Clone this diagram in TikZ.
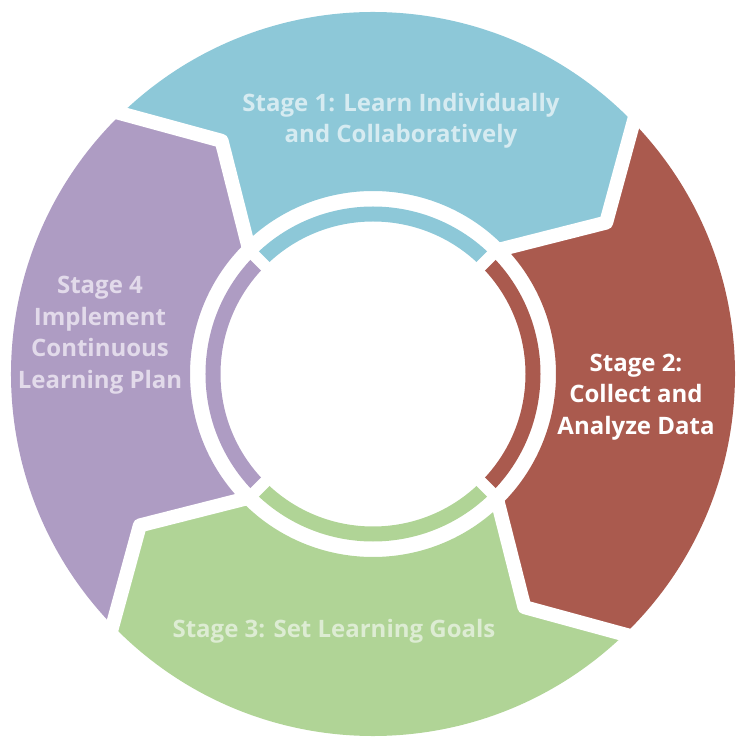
\documentclass[tikz,border=0pt]{standalone}
\usepackage{fontspec}
\setmainfont{Open Sans}
\usetikzlibrary{calc}

\definecolor{learnTeal}{RGB}{141,200,216}
\definecolor{dataRed}{RGB}{170,90,78}
\definecolor{goalGreen}{RGB}{176,212,150}
\definecolor{planPurple}{RGB}{174,156,195}
\definecolor{learnText}{RGB}{214,235,241}
\definecolor{goalText}{RGB}{221,236,211}
\definecolor{planText}{RGB}{226,218,234}

\begin{document}
\begin{tikzpicture}[
    x=1pt, y=1pt,
    line join=round,
    font=\bfseries\fontsize{24}{31.5}\selectfont,
    gap/.style={draw=white, line width=14pt, line join=round},
    ringgap/.style={draw=white, line width=12pt},
    label/.style={align=center, inner sep=0pt}
]

% ======================================
% 参数设置
% ======================================
\def\Rout{362pt}    % outer radius of the cycle
\def\Rin{183pt}     % inner radius of the cycle
\def\Rc{278pt}      % radius of the arrow tips
\def\Rring{160pt}   % middle of the thin inner ring

\coordinate (O) at (0,0);
\useasboundingbox (-373,-364) rectangle (365,374);

% ======================================
% 四个阶段
% ======================================
% Stage 1 (top)
\fill[learnTeal] (134:\Rout) arc[start angle=134, end angle=44, radius=\Rout]
    -- (33:\Rc) -- (43.5:\Rin) arc[start angle=43.5, end angle=133.5, radius=\Rin]
    -- (123:\Rc) -- cycle;

% Stage 2 (right)
\fill[dataRed] (44:\Rout) arc[start angle=44, end angle=-46, radius=\Rout]
    -- (-57:\Rc) -- (-46.5:\Rin) arc[start angle=-46.5, end angle=43.5, radius=\Rin]
    -- (33:\Rc) -- cycle;

% Stage 3 (bottom)
\fill[goalGreen] (-46:\Rout) arc[start angle=-46, end angle=-136, radius=\Rout]
    -- (-147:\Rc) -- (-136.5:\Rin) arc[start angle=-136.5, end angle=-46.5, radius=\Rin]
    -- (-57:\Rc) -- cycle;

% Stage 4 (left)
\fill[planPurple] (224:\Rout) arc[start angle=224, end angle=134, radius=\Rout]
    -- (123:\Rc) -- (133.5:\Rin) arc[start angle=133.5, end angle=223.5, radius=\Rin]
    -- (213:\Rc) -- cycle;

% 白色间隔
\coordinate (TipNE) at (33:\Rc);
\coordinate (TipSE) at (-57:\Rc);
\coordinate (TipSW) at (213:\Rc);
\coordinate (TipNW) at (123:\Rc);

\draw[gap] ($(TipNE)!1.15!(44:\Rout)$) -- (TipNE) -- ($(TipNE)!1.2!(43.5:\Rin)$);
\draw[gap] ($(TipSE)!1.15!(-46:\Rout)$) -- (TipSE) -- ($(TipSE)!1.2!(-46.5:\Rin)$);
\draw[gap] ($(TipSW)!1.15!(224:\Rout)$) -- (TipSW) -- ($(TipSW)!1.2!(223.5:\Rin)$);
\draw[gap] ($(TipNW)!1.15!(134:\Rout)$) -- (TipNW) -- ($(TipNW)!1.2!(133.5:\Rin)$);

% ======================================
% 内圈细环
% ======================================
\draw[learnTeal, line width=15pt] (45:\Rring) arc[start angle=45, end angle=135, radius=\Rring];
\draw[dataRed, line width=15pt] (-45:\Rring) arc[start angle=-45, end angle=45, radius=\Rring];
\draw[goalGreen, line width=15pt] (-135:\Rring) arc[start angle=-135, end angle=-45, radius=\Rring];
\draw[planPurple, line width=15pt] (135:\Rring) arc[start angle=135, end angle=225, radius=\Rring];

\draw[ringgap] (45:140pt) -- (45:176pt);
\draw[ringgap] (135:140pt) -- (135:176pt);
\draw[ringgap] (225:140pt) -- (225:176pt);
\draw[ringgap] (315:140pt) -- (315:176pt);

% ======================================
% 文字
% ======================================
\node[label, text=learnText] (stage1) at (28,253) {Stage 1: Learn Individually\\and Collaboratively};
\node[label, text=white] (stage2) at (263,-23) {Stage 2:\\Collect and\\Analyze Data};
\node[label, text=goalText, anchor=base] (stage3) at (-39,-263) {Stage 3: Set Learning Goals};
\node[label, text=planText] (stage4) at (-273,39) {Stage 4\\Implement\\Continuous\\Learning Plan};

\end{tikzpicture}
\end{document}
